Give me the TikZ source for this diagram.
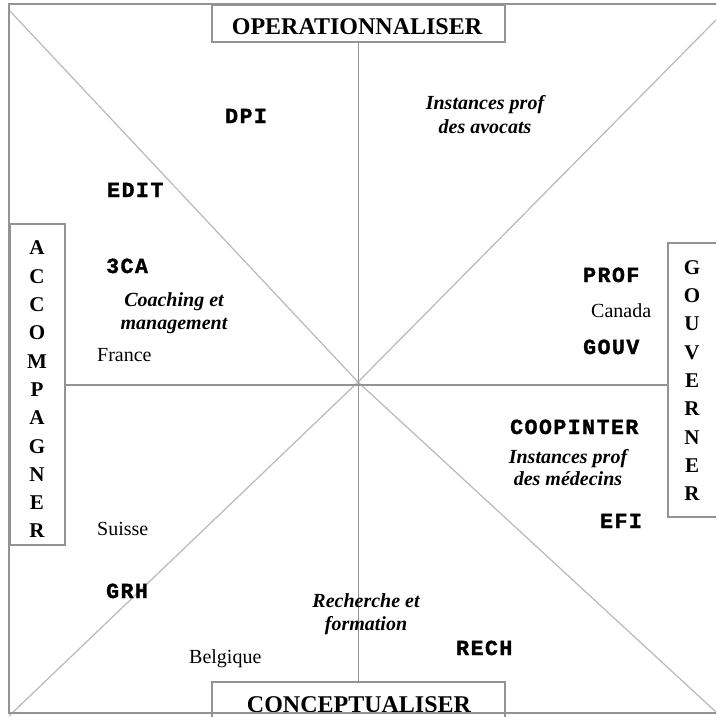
\documentclass[tikz,border=0pt]{standalone}
\usepackage{fontspec}
\setmainfont{Liberation Serif}
\newfontfamily\monob{Liberation Mono}[LetterSpace=7, BoldFeatures={FakeBold=1.5}]
\begin{document}
\begin{tikzpicture}[x=1pt,y=-1pt,
  frame/.style={draw=gray!85, line width=2pt},
  diag/.style={draw=gray!55, line width=1.2pt},
  axis/.style={draw=gray!85, line width=1.4pt},
  pole/.style={draw=gray!85, line width=1.5pt, fill=white, inner sep=0pt},
  poletext/.style={font=\bfseries\fontsize{24}{26}\selectfont, anchor=base, inner sep=0pt},
  vert/.style={font=\bfseries\fontsize{21}{28.3}\selectfont, align=center, inner sep=0pt},
  code/.style={font=\monob\bfseries\fontsize{21.5}{22}\selectfont, anchor=base west, inner sep=0pt},
  field/.style={font=\bfseries\itshape\fontsize{20}{23}\selectfont, align=center, inner sep=0pt},
  country/.style={font=\fontsize{20}{22}\selectfont, anchor=base west, inner sep=0pt}
]
\useasboundingbox (0,0) rectangle (716,717);
\clip (0,0) rectangle (716,717);
\fill[white] (0,0) rectangle (716,717);

% centre and corners
\coordinate (c) at (358,382);
\coordinate (tl) at (9,10);
\coordinate (tr) at (716,20);
\coordinate (bl) at (9,716);
\coordinate (br) at (716,712);

\draw[diag] (tl) -- (c);
\draw[diag] (tr) -- (c);
\draw[diag] (bl) -- (c);
\draw[diag] (br) -- (c);

% pole boxes
\node[pole, minimum width=293pt, minimum height=37pt] (opbox) at (358.5,23.5) {};
\node[pole, minimum width=293pt, minimum height=50pt] (cpbox) at (358.5,707) {};
\node[pole, minimum width=55pt, minimum height=321pt] (acbox) at (37.5,384.5) {};
\node[pole, minimum width=60pt, minimum height=274pt] (gvbox) at (698,380) {};

% axes
\draw[axis] (opbox.south) -- (cpbox.north);
\draw[axis] (acbox.east |- 0,385) -- (gvbox.west |- 0,385);

% pole texts
\node[poletext] (optext) at (357,35) {OPERATIONNALISER};
\node[poletext] (cptext) at (359,712) {CONCEPTUALISER};
\node[vert] (actext) at (37,389.5) {A\\C\\C\\O\\M\\P\\A\\G\\N\\E\\R};
\node[vert] (gvtext) at (692,380.5) {G\\O\\U\\V\\E\\R\\N\\E\\R};

% codes
\node[code] (dpi) at (225,123) {DPI};
\node[code] (edit) at (107,197) {EDIT};
\node[code] (tca) at (106,273) {3CA};
\node[code] (prof) at (583,282) {PROF};
\node[code] (gouv) at (583,354) {GOUV};
\node[code] (coop) at (510,434) {COOPINTER};
\node[code] (efi) at (600,528) {EFI};
\node[code] (grh) at (106,598) {GRH};
\node[code] (rech) at (456,655) {RECH};

% fields
\node[field, font=\bfseries\itshape\fontsize{20}{24}\selectfont] (avoc) at (485,114.5) {Instances prof\\des avocats};
\node[field] (coach) at (174,312.8) {Coaching et\\management};
\node[field, font=\bfseries\itshape\fontsize{20}{22}\selectfont] (medc) at (568,467.2) {Instances prof\\des médecins};
\node[field] (rform) at (366,613.7) {Recherche et\\formation};

% countries
\node[country] (fr) at (97,361) {France};
\node[country] (ca) at (591,317) {Canada};
\node[country] (ch) at (97,535) {Suisse};
\node[country] (be) at (189,663) {Belgique};

% outer frame
\draw[frame] (9,4) rectangle (724,713);
\end{tikzpicture}
\end{document}
